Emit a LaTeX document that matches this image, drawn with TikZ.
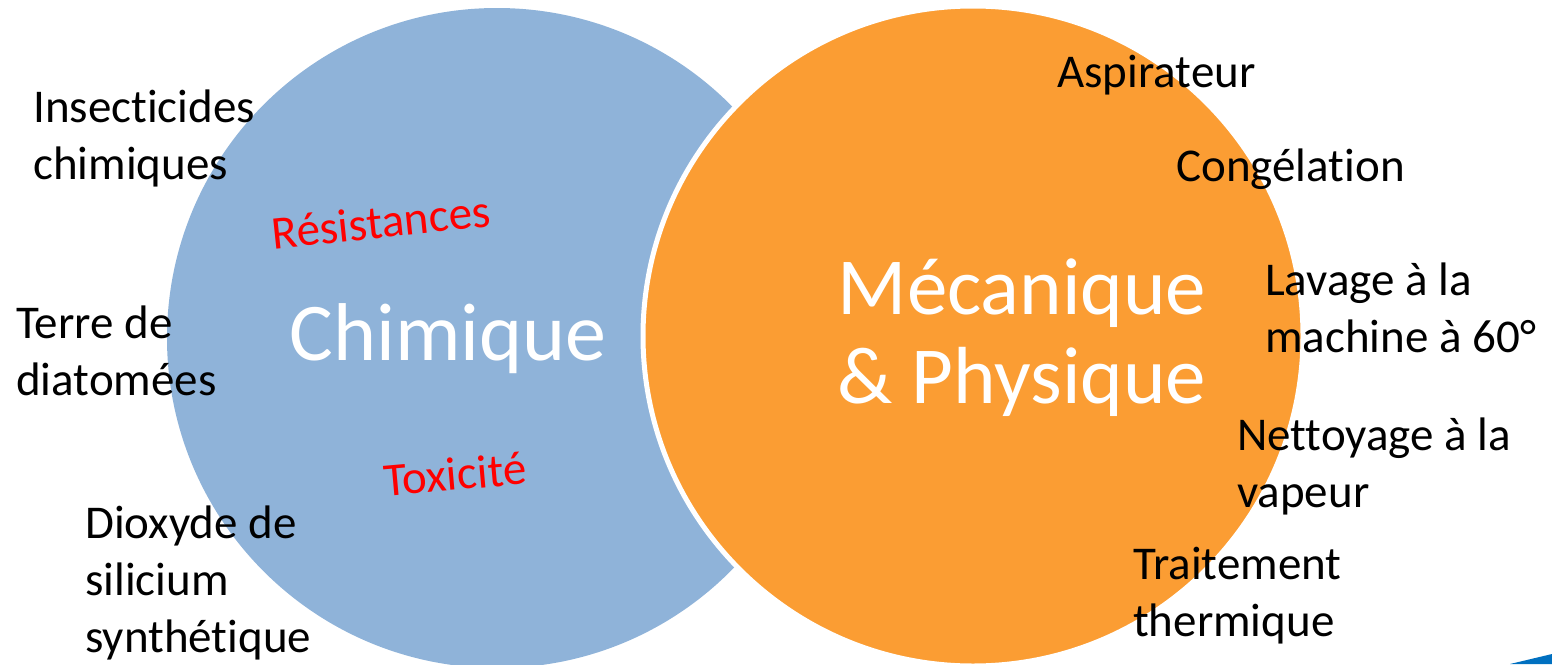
\documentclass[tikz,border=0pt]{standalone}
\usepackage{fontspec}
\setmainfont{Carlito}[Ligatures={NoCommon,NoRare,NoContextual}, Contextuals=NoAlternate]
\usepackage{xcolor}
\usepackage{tikz}
\usetikzlibrary{positioning}
\definecolor{chimblue}{RGB}{143,179,217}
\definecolor{mecaorange}{RGB}{251,157,51}
\definecolor{slideblue}{RGB}{0,112,192}

\begin{document}
\begin{tikzpicture}[x=1pt, y=1pt,
    item/.style={anchor=west, align=left, inner sep=0pt, font=\fontsize{47}{57}\selectfont},
    risk/.style={inner sep=0pt, text=red, font=\fontsize{47}{57}\selectfont},
    title/.style={align=center, inner sep=0pt, text=white}]
    \useasboundingbox (0,0) rectangle (1552,-664);
    \clip (0,0) rectangle (1552,-664);

    % Circles
    \fill [chimblue] (497,-338) circle (330);
    \fill [mecaorange, draw=white, line width=5pt] (973,-336) circle (330);
    \fill [slideblue] (1510,-664) -- (1552,-654) -- (1552,-664) -- cycle;

    % Titles
    \node [title, font=\fontsize{82}{89}\selectfont] (chim) at (448,-339) {Chimique};
    \node [title, font=\fontsize{81}{89}\selectfont] (meca) at (1022,-338) {Mécanique\\\& Physique};

    % Risks
    \node [risk, rotate=6] (resist) at (381,-222) {Résistances};
    \node [risk, rotate=5] (toxic) at (455,-474) {Toxicité};

    % Chemical methods
    \node [item] (insect) at (33,-138) {Insecticides\\chimiques};
    \node [item] (terre) at (16,-351) {Terre de\\diatomées};
    \node [item] (dioxyde) at (85,-583) {Dioxyde de\\silicium\\synthétique};

    % Mechanical methods
    \node [item] (aspir) at (1057,-75) {Aspirateur};
    \node [item] (congel) at (1176,-169) {Congélation};
    \node [item] (lavage) at (1265,-308) {Lavage à la\\machine à 60°};
    \node [item] (vapeur) at (1237,-466) {Nettoyage à la\\vapeur};
    \node [item] (thermo) at (1133,-596) {Traitement\\thermique};
\end{tikzpicture}
\end{document}
